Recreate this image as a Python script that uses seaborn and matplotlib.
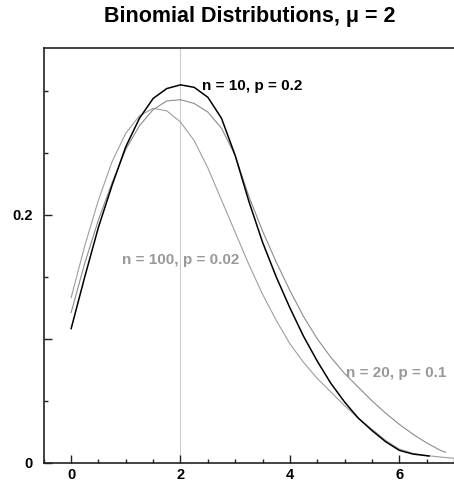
import numpy as np
import pandas as pd
import seaborn as sns
import matplotlib.pyplot as plt
from matplotlib.ticker import MultipleLocator, FixedLocator

# Data
x_n10 = [0, 0.25, 0.5, 0.75, 1.0, 1.25, 1.5, 1.75, 2.0, 2.25, 2.5, 2.75, 3.0, 3.25,
         3.5, 3.75, 4.0, 4.25, 4.5, 4.75, 5.0, 5.25, 5.5, 5.75, 6.0, 6.25, 6.55]
p_n10 = [0.108, 0.150, 0.190, 0.224, 0.255, 0.278, 0.294, 0.302, 0.305, 0.303, 0.295,
         0.278, 0.248, 0.211, 0.178, 0.150, 0.125, 0.102, 0.082, 0.064, 0.049, 0.036,
         0.026, 0.017, 0.010, 0.007, 0.0054]

x_n20 = [0, 0.25, 0.5, 0.75, 1.0, 1.25, 1.5, 1.75, 2.0, 2.25, 2.5, 2.75, 3.0, 3.25,
         3.5, 3.75, 4.0, 4.25, 4.5, 4.75, 5.0, 5.25, 5.5, 5.75, 6.0, 6.25, 6.5, 6.75, 6.85]
p_n20 = [0.121, 0.161, 0.196, 0.226, 0.253, 0.272, 0.285, 0.292, 0.293, 0.290, 0.283,
         0.270, 0.248, 0.215, 0.187, 0.162, 0.139, 0.118, 0.100, 0.085, 0.072, 0.061,
         0.050, 0.040, 0.031, 0.023, 0.016, 0.010, 0.0084]

x_n100 = [0, 0.25, 0.5, 0.75, 1.0, 1.25, 1.5, 1.75, 2.0, 2.25, 2.5, 2.75, 3.0, 3.25,
          3.5, 3.75, 4.0, 4.25, 4.5, 4.75, 5.0, 5.25, 5.5, 5.75, 6.0, 6.25, 6.5, 6.75, 7.0]
p_n100 = [0.133, 0.175, 0.212, 0.243, 0.266, 0.280, 0.286, 0.284, 0.275, 0.260, 0.238,
          0.212, 0.186, 0.160, 0.136, 0.115, 0.096, 0.081, 0.068, 0.057, 0.046, 0.036,
          0.027, 0.018, 0.011, 0.0075, 0.0058, 0.0046, 0.0036]

series_names = ['n = 10, p = 0.2', 'n = 20, p = 0.1', 'n = 100, p = 0.02']
line_colors = ['#000000', '#8c8c8c', '#9e9e9e']
label_colors = ['#000000', '#999999', '#999999']
label_pos = [(2.40, 0.304), (5.03, 0.0727), (0.94, 0.1637)]

df = pd.concat([
    pd.DataFrame({'x': x_n10, 'p': p_n10, 'dist': series_names[0]}),
    pd.DataFrame({'x': x_n20, 'p': p_n20, 'dist': series_names[1]}),
    pd.DataFrame({'x': x_n100, 'p': p_n100, 'dist': series_names[2]}),
])

sns.set_style("ticks")
plt.rcParams['font.family'] = ['Liberation Sans', 'DejaVu Sans']
plt.rcParams['text.color'] = 'black'
plt.rcParams['xtick.labelcolor'] = 'black'
plt.rcParams['ytick.labelcolor'] = 'black'

fig = plt.figure(figsize=(4.54, 4.86), dpi=100)
ax = fig.add_axes([0.0963, 0.0479, 0.9037, 0.854])

ax.axvline(2, color='#cccccc', linewidth=0.8, zorder=0)

sns.lineplot(data=df, x='x', y='p', hue='dist', hue_order=series_names[::-1],
             palette=dict(zip(series_names, line_colors)), sort=False,
             legend=False, ax=ax, linewidth=0.8)
# black curve a bit heavier, round joins to soften the corners
for line in ax.get_lines()[1:]:
    line.set_solid_joinstyle('round')
    if line.get_color() == '#000000':
        line.set_linewidth(1.1)

for name, col, (tx, ty) in zip(series_names, label_colors, label_pos):
    ax.text(tx, ty, name, color=col, fontsize=11, fontweight='bold',
            ha='left', va='center')

ax.set_xlim(-0.5, 7.0)
ax.set_ylim(0, 0.335)
ax.xaxis.set_major_locator(FixedLocator([0, 2, 4, 6]))
ax.xaxis.set_minor_locator(MultipleLocator(0.5))
ax.yaxis.set_major_locator(FixedLocator([0, 0.1, 0.2]))
ax.set_yticklabels(['0', '', '0.2'])
ax.yaxis.set_minor_locator(FixedLocator([0.05, 0.15, 0.25, 0.3]))
ax.tick_params(axis='both', which='major', direction='in', length=5.5, width=1,
               labelsize=10.5, color='#222222', labelcolor='black')
ax.tick_params(axis='both', which='minor', direction='in', length=2.8, width=1,
               color='#222222')
ax.tick_params(axis='x', which='major', pad=4)
ax.tick_params(axis='y', which='major', pad=8)
for lab in ax.get_xticklabels() + ax.get_yticklabels():
    lab.set_fontweight('bold')

for side in ['left', 'bottom', 'top']:
    ax.spines[side].set_color('#222222')
    ax.spines[side].set_linewidth(1.2)
ax.spines['right'].set_visible(False)
ax.set_xlabel('')
ax.set_ylabel('')

fig.text(0.551, 0.967, 'Binomial Distributions, μ = 2', ha='center', va='center',
         fontsize=15.5, fontweight='bold', color='black')

fig.savefig('out.png', dpi=100)
